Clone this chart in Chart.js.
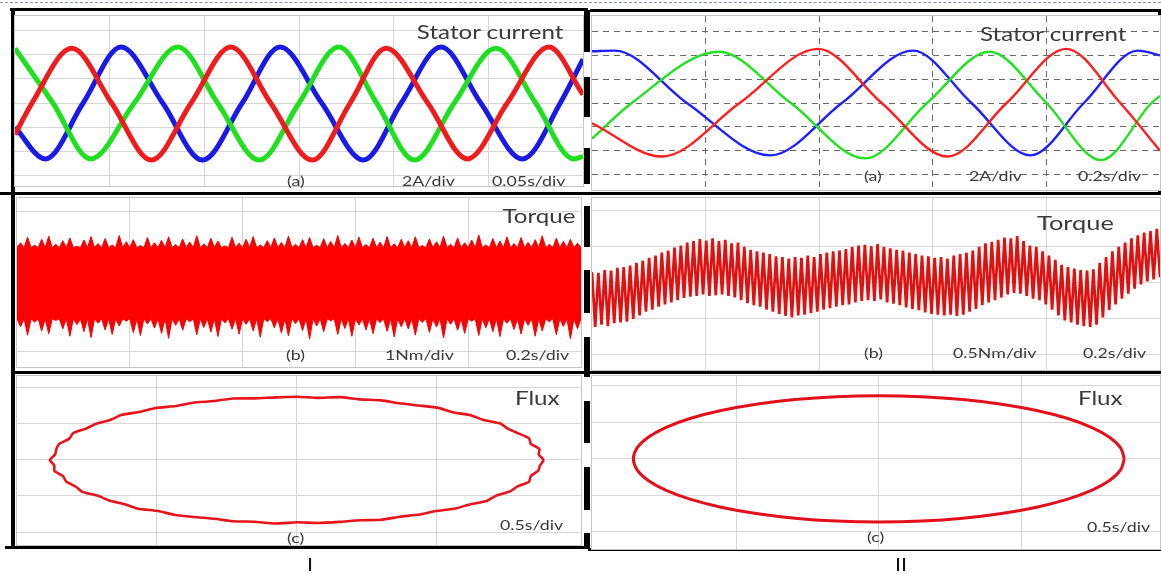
<!DOCTYPE html>
<html>
<head>
<meta charset="utf-8">
<script src="https://cdn.jsdelivr.net/npm/chart.js@4.4.1/dist/chart.umd.min.js"></script>
<style>
  body { margin: 0; width: 1161px; height: 574px; position: relative; overflow: hidden; background: #fff; font-family: Lato, "Open Sans", sans-serif; }
  .box { position: absolute; border: 1px solid #c6c6c6; box-sizing: border-box; background: #fff; }
  .box canvas { display: block; }
  .bar { position: absolute; background: #000; }
  .lbl { position: absolute; color: #3a3a3a; white-space: nowrap; line-height: 1; transform: translateY(-50%) scaleX(1.27); transform-origin: left center; }
  .lbl.r { transform-origin: right center; }
  .big { font-size: 19px; }
  .small { font-size: 14px; }
</style>
</head>
<body>

<div style="position:absolute;left:0;top:2px;width:1161px;border-top:1px dashed #8494ab;"></div>

<!-- frames -->
<div class="bar" style="left:10px;top:8px;width:578px;height:3px"></div>
<div class="bar" style="left:590px;top:9px;width:571px;height:3px"></div>
<div class="bar" style="left:11px;top:8px;width:4px;height:541px"></div>
<div class="bar" style="left:0;top:192px;width:1161px;height:3px"></div>
<div class="bar" style="left:11px;top:371px;width:1150px;height:3px"></div>
<div class="bar" style="left:5px;top:546px;width:585px;height:3px"></div>
<div class="bar" style="left:588px;top:548px;width:573px;height:3px"></div>
<div class="bar" style="left:1158px;top:9px;width:3px;height:183px"></div>

<div class="box" style="left:14px;top:15px;width:570px;height:172px"><canvas id="curI"></canvas></div>
<div class="box" style="left:591px;top:15px;width:570px;height:176px"><canvas id="curII"></canvas></div>
<div class="box" style="left:16px;top:197px;width:566px;height:171px"><canvas id="torI"></canvas></div>
<div class="box" style="left:591px;top:197px;width:570px;height:174px"><canvas id="torII"></canvas></div>
<div class="box" style="left:16px;top:375px;width:566px;height:171px"><canvas id="fluxI"></canvas></div>
<div class="box" style="left:591px;top:375px;width:570px;height:175px"><canvas id="fluxII"></canvas></div>

<!-- thick dashed divider -->
<div class="bar" style="left:584px;top:10px;width:6px;height:42px"></div>
<div class="bar" style="left:584px;top:77px;width:6px;height:40px"></div>
<div class="bar" style="left:584px;top:148px;width:6px;height:36px"></div>
<div class="bar" style="left:584px;top:206px;width:6px;height:41px"></div>
<div class="bar" style="left:584px;top:270px;width:6px;height:43px"></div>
<div class="bar" style="left:584px;top:337px;width:6px;height:40px"></div>
<div class="bar" style="left:584px;top:401px;width:6px;height:42px"></div>
<div class="bar" style="left:584px;top:467px;width:6px;height:43px"></div>
<div class="bar" style="left:584px;top:533px;width:6px;height:16px"></div>

<!-- texts -->
<div class="lbl big r" style="right:598px;top:31px">Stator current</div>
<div class="lbl small" style="left:287px;top:181px">(a)</div>
<div class="lbl small" style="left:402px;top:181px">2A/div</div>
<div class="lbl small" style="left:492px;top:181px">0.05s/div</div>

<div class="lbl big" style="left:980px;top:33px">Stator current</div>
<div class="lbl small" style="left:864px;top:176px">(a)</div>
<div class="lbl small" style="left:969px;top:176px">2A/div</div>
<div class="lbl small" style="left:1078px;top:176px">0.2s/div</div>

<div class="lbl big r" style="right:586px;top:215px">Torque</div>
<div class="lbl small" style="left:286px;top:355px">(b)</div>
<div class="lbl small" style="left:385px;top:355px">1Nm/div</div>
<div class="lbl small" style="left:506px;top:355px">0.2s/div</div>

<div class="lbl big" style="left:1037px;top:222px;font-size:20px">Torque</div>
<div class="lbl small" style="left:864px;top:353px">(b)</div>
<div class="lbl small" style="left:953px;top:353px">0.5Nm/div</div>
<div class="lbl small" style="left:1083px;top:353px">0.2s/div</div>

<div class="lbl big" style="left:515px;top:397px">Flux</div>
<div class="lbl small" style="left:500px;top:525px">0.5s/div</div>
<div class="lbl small" style="left:287px;top:538px">(c)</div>

<div class="lbl big" style="left:1078px;top:397px">Flux</div>
<div class="lbl small" style="left:1087px;top:527px">0.5s/div</div>
<div class="lbl small" style="left:867px;top:537px">(c)</div>

<div class="lbl" style="left:307px;top:564px;font-size:17px;color:#111">I</div>
<div class="lbl" style="left:895px;top:564px;font-size:17px;color:#111">II</div>

<script>
// ---- I: stator current, [ms, A]
const redI = [[0,-2.6],[9,0],[30,4.5],[51,0],[72,-4.7],[93,0],[114,4.6],[135,0],[157,-4.7],[177,0],[196,4.5],[218,0],[239,-4.6],[260,0],[282,4.6],[300,0.7]];
const blueI = [[0,-2.0],[16,-4.6],[36,0],[56,4.6],[78,0],[99,-4.7],[120,0],[140,4.6],[162,0],[184,-4.7],[204,0],[225,4.6],[246,0],[268,-4.6],[288,0],[300,3.6]];
const greenI = [[0,4.5],[20,0],[40,-4.6],[63,0],[86,4.6],[107,0],[129,-4.7],[150,0],[171,4.6],[191,0],[211,-4.7],[232,0],[254,4.5],[275,0],[295,-4.6],[300,-4.4]];

// ---- II: stator current, [s, A]
const redII = [[0,-1.7],[0.123,-4.5],[0.26,0],[0.398,4.55],[0.51,0],[0.626,-4.5],[0.73,0],[0.835,4.55],[0.93,0],[1.0,-4.0]];
const blueII = [[0,4.35],[0.04,4.4],[0.167,0],[0.314,-4.4],[0.44,0],[0.565,4.4],[0.668,0],[0.772,-4.4],[0.866,0],[0.961,4.4],[1.0,4.0]];
const greenII = [[0,-3.0],[0.07,0],[0.223,4.3],[0.35,0],[0.481,-4.65],[0.59,0],[0.70,4.3],[0.80,0],[0.896,-4.8],[0.985,0],[1.0,0.6]];

// ---- I: torque band (Nm): solid core edges and the needle tips around it
const torqueCoreI = [0.95, 2.98];
const torqueTopI = [3.12,3.28,3.05,3.22,3.31,3.08,3.18,3.26,3.02,3.20,
  3.30,3.10,3.24,3.06,3.33,3.15,3.21,3.04,3.27,3.12,
  3.19,3.29,3.07,3.23,3.14,3.32,3.09,3.25,3.17,3.03,
  3.28,3.11,3.22,3.30,3.06,3.18,3.26,3.13,3.31,3.08,
  3.21,3.27,3.05,3.24,3.16,3.33,3.10,3.20,3.28,3.07,
  3.25,3.14,3.30,3.09,3.22,3.18,3.29,3.04,3.23,3.15,
  3.31,3.08,3.26,3.12,3.20,3.34,3.06,3.24,3.17,3.29,
  3.10,3.27,3.13,3.21,3.32,3.08,3.25,3.16,3.22,3.11];
const torqueBotI = [0.72,0.48,0.85,0.60,0.52,0.90,0.66,0.45,0.78,0.58,
  0.41,0.82,0.63,0.50,0.74,0.88,0.55,0.47,0.80,0.68,
  0.53,0.39,0.76,0.62,0.86,0.49,0.70,0.57,0.44,0.83,
  0.65,0.51,0.79,0.60,0.42,0.87,0.69,0.54,0.46,0.81,
  0.61,0.37,0.74,0.58,0.89,0.50,0.67,0.45,0.77,0.63,
  0.52,0.84,0.59,0.43,0.72,0.66,0.48,0.85,0.56,0.71,
  0.40,0.79,0.62,0.53,0.88,0.47,0.69,0.58,0.44,0.82,
  0.64,0.51,0.76,0.45,0.60,0.86,0.49,0.73,0.38,0.66];

// ---- II: torque ripple, tooth tops and bottoms (Nm)
const torqueTopII = [1.15,1.14,1.18,1.17,1.21,1.22,1.24,1.28,1.31,1.35,
  1.38,1.42,1.45,1.49,1.52,1.56,1.58,1.61,1.59,1.62,
  1.58,1.60,1.55,1.56,1.50,1.46,1.44,1.42,1.40,1.37,
  1.36,1.34,1.36,1.35,1.38,1.36,1.40,1.42,1.44,1.45,
  1.47,1.50,1.52,1.53,1.51,1.54,1.50,1.48,1.46,1.45,
  1.42,1.40,1.38,1.37,1.35,1.36,1.34,1.38,1.40,1.42,
  1.45,1.50,1.55,1.57,1.60,1.63,1.62,1.65,1.58,1.52,
  1.50,1.44,1.38,1.32,1.25,1.22,1.20,1.18,1.17,1.19,
  1.28,1.36,1.44,1.50,1.56,1.62,1.66,1.70,1.72,1.75];
const torqueBotII = [0.39,0.42,0.40,0.44,0.45,0.46,0.50,0.55,0.60,0.63,
  0.67,0.70,0.73,0.76,0.79,0.81,0.82,0.84,0.82,0.83,
  0.84,0.82,0.80,0.76,0.72,0.69,0.67,0.63,0.60,0.57,
  0.54,0.52,0.55,0.56,0.58,0.60,0.63,0.65,0.67,0.69,
  0.70,0.73,0.75,0.76,0.75,0.77,0.73,0.71,0.69,0.66,
  0.64,0.62,0.59,0.57,0.56,0.55,0.56,0.54,0.56,0.60,
  0.64,0.69,0.73,0.76,0.80,0.84,0.86,0.85,0.82,0.78,
  0.76,0.70,0.63,0.55,0.48,0.45,0.42,0.40,0.39,0.42,
  0.52,0.62,0.70,0.78,0.85,0.92,0.98,1.02,1.05,1.08];

// ---- flux locus (div)
const fluxIx = [1.765,1.728,1.733,1.671,1.659,1.582,1.507,1.450,1.329,1.241,1.112,1.012,0.872,0.733,0.602,0.451,0.308,0.151,0,
  -0.152,-0.302,-0.457,-0.595,-0.742,-0.865,-1.009,-1.121,-1.252,-1.329,-1.434,-1.507,-1.599,-1.626,-1.695,-1.719,-1.728,-1.765,
  -1.733,-1.733,-1.671,-1.649,-1.582,-1.533,-1.421,-1.341,-1.230,-1.134,-0.992,-0.877,-0.737,-0.593,-0.455,-0.302,-0.154,0,
  0.153,0.303,0.449,0.604,0.735,0.875,0.992,1.132,1.234,1.356,1.421,1.520,1.577,1.659,1.671,1.723,1.738];
const fluxIy = [0,0.151,0.305,0.448,0.604,0.737,0.870,1.016,1.116,1.241,1.325,1.446,1.511,1.573,1.654,1.681,1.743,1.723,1.755,
  1.738,1.709,1.705,1.635,1.590,1.498,1.442,1.337,1.252,1.116,1.004,0.870,0.746,0.592,0.455,0.303,0.151,0,
  -0.152,-0.305,-0.448,-0.600,-0.737,-0.885,-0.996,-1.125,-1.230,-1.352,-1.417,-1.520,-1.582,-1.630,-1.700,-1.714,-1.763,-1.730,
  -1.748,-1.719,-1.675,-1.659,-1.577,-1.516,-1.417,-1.348,-1.234,-1.138,-0.996,-0.877,-0.735,-0.604,-0.448,-0.304,-0.152];
const fluxIIx = [1.72,1.694,1.616,1.490,1.318,1.106,0.860,0.588,0.299,0,-0.299,-0.588,-0.860,-1.106,-1.318,-1.490,-1.616,-1.694,
  -1.72,-1.694,-1.616,-1.490,-1.318,-1.106,-0.860,-0.588,-0.299,0,0.299,0.588,0.860,1.106,1.318,1.490,1.616,1.694];
const fluxIIy = [0,0.300,0.592,0.865,1.112,1.325,1.498,1.626,1.704,1.73,1.704,1.626,1.498,1.325,1.112,0.865,0.592,0.300,
  0,-0.300,-0.592,-0.865,-1.112,-1.325,-1.498,-1.626,-1.704,-1.73,-1.704,-1.626,-1.498,-1.325,-1.112,-0.865,-0.592,-0.300];

const RED = '#ee1c1c', GREEN = '#1ee01e', BLUE = '#1a1ae6';

function pairs(arr) { return arr.map(p => ({ x: p[0], y: p[1] })); }
function loop(xs, ys) {
  const pts = xs.map((x, i) => ({ x: x, y: ys[i] }));
  pts.push(pts[0]);
  return pts;
}

function axis(range, ticks, g) {
  return {
    type: 'linear', min: range[0], max: range[1],
    afterBuildTicks: s => { s.ticks = ticks.map(v => ({ value: v })); },
    ticks: { display: false },
    grid: { color: g.color, lineWidth: 1, drawTicks: false },
    border: { display: false, dash: g.dash || [] }
  };
}

function scope(id, type, datasets, xr, yr, xGrid, yGrid, g) {
  return new Chart(document.getElementById(id), {
    type: type,
    data: { datasets: datasets },
    options: {
      responsive: true, maintainAspectRatio: false, animation: false, events: [],
      layout: { padding: 0 },
      plugins: { legend: { display: false }, tooltip: { enabled: false } },
      scales: { x: axis(xr, xGrid, g), y: axis(yr, yGrid, g) }
    }
  });
}

function wave(data, color, w) {
  return { data: pairs(data), borderColor: color, borderWidth: w, pointRadius: 0,
           cubicInterpolationMode: 'monotone', fill: false };
}

const lightGrid = { color: '#d6d6d6' };
const dashGrid = { color: '#6a6a6a', dash: [6, 5] };

// stator current
scope('curI', 'line', [wave(redI, RED, 5), wave(greenI, GREEN, 5), wave(blueI, BLUE, 5)],
  [0, 300], [-6.83, 7.16], [50, 100, 150, 200, 250], [-6, -4, -2, 0, 2, 4, 6], lightGrid);
scope('curII', 'line', [wave(redII, '#ff1f1f', 2.4), wave(greenII, '#22e022', 2.4), wave(blueII, '#1f1fff', 2.4)],
  [0, 1], [-7.31, 7.31], [0.2, 0.4, 0.6, 0.8], [-6, -4, -2, 0, 2, 4, 6], dashGrid);

// torque I: solid band whose edges carry the needle tips
const stepI = 1 / torqueTopI.length;
function needles(tips, core) {
  const pts = [];
  tips.forEach((v, i) => {
    pts.push({ x: i * stepI, y: core });
    pts.push({ x: (i + 0.5) * stepI, y: v });
  });
  pts.push({ x: 1, y: core });
  return pts;
}
scope('torI', 'line', [
  { data: needles(torqueTopI, torqueCoreI[1]), borderColor: '#f20000', borderWidth: 1,
    backgroundColor: '#ff0000', pointRadius: 0, fill: '+1', tension: 0 },
  { data: needles(torqueBotI, torqueCoreI[0]), borderColor: '#f20000', borderWidth: 1,
    pointRadius: 0, fill: false, tension: 0 }
], [0, 1], [-0.43, 4.40], [0.2, 0.4, 0.6, 0.8], [0, 1, 2, 3, 4], lightGrid);

// torque II: ripple teeth
const stepII = 1 / (torqueTopII.length - 0.5);
const torqueIIPts = [];
torqueTopII.forEach((v, i) => {
  torqueIIPts.push({ x: i * stepII, y: v });
  torqueIIPts.push({ x: (i + 0.5) * stepII, y: torqueBotII[i] });
});
scope('torII', 'line', [
  { data: torqueIIPts, borderColor: '#e31010', borderWidth: 2.7, pointRadius: 0, fill: false, tension: 0 }
], [0, 1], [-0.21, 2.18], [0.2, 0.4, 0.6, 0.8], [0, 0.5, 1, 1.5, 2], lightGrid);

// flux locus
scope('fluxI', 'scatter', [
  { data: loop(fluxIx, fluxIy), showLine: true, borderColor: '#e8141c', borderWidth: 2.6, pointRadius: 0, tension: 0.15 }
], [-2.0, 2.03], [-2.36, 2.33], [-1, 0, 1], [-2, -1, 0, 1, 2], lightGrid);
scope('fluxII', 'scatter', [
  { data: loop(fluxIIx, fluxIIy), showLine: true, borderColor: '#e3101c', borderWidth: 3, pointRadius: 0, tension: 0.4 }
], [-2.01, 1.97], [-2.47, 2.27], [-1, 0, 1], [-2, -1, 0, 1, 2], lightGrid);
</script>
</body>
</html>
